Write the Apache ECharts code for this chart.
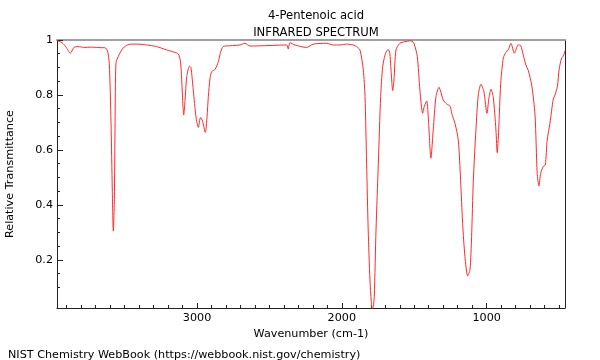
<!DOCTYPE html>
<html><head><meta charset="utf-8">
<script src="https://cdn.jsdelivr.net/npm/echarts@6/dist/echarts.min.js"></script>
<style>html,body{margin:0;padding:0;background:#fff}#c{width:600px;height:360px}</style>
</head><body><div id="c"></div>
<script>
const wavenumber = [3967,3932,3905,3875,3850,3822,3774,3739,3693,3663,3636,3618,3606,3594,3585,3578,3571,3566,3560,3544,3520,3497,3463,3408,3348,3279,3210,3159,3129,3114,3106,3092,3083,3071,3052,3042,3026,3007,2991,2976,2962,2943,2931,2922,2910,2899,2876,2853,2838,2819,2772,2703,2669,2634,2496,2381,2370,2358,2324,2243,2197,2105,2059,2013,1967,1921,1898,1875,1852,1840,1829,1818,1806,1797,1790,1783,1776,1764,1748,1732,1718,1702,1684,1675,1668,1656,1649,1640,1626,1599,1564,1530,1516,1502,1479,1461,1442,1430,1414,1401,1385,1369,1350,1329,1316,1300,1276,1253,1241,1219,1196,1180,1166,1150,1131,1115,1104,1092,1074,1058,1039,1019,998,984,970,954,936,927,917,903,885,867,851,832,809,782,765,747,729,713,689,666,651,639,627,609,595,582,563,540,528,512,499,482,471,459];
const transmittance = [0.998,0.99,0.975,0.952,0.973,0.976,0.973,0.974,0.973,0.972,0.972,0.96,0.915,0.7,0.45,0.305,0.42,0.7,0.916,0.94,0.964,0.977,0.985,0.985,0.982,0.976,0.964,0.956,0.949,0.92,0.855,0.727,0.78,0.867,0.905,0.9,0.818,0.72,0.682,0.718,0.705,0.664,0.72,0.794,0.862,0.885,0.893,0.921,0.955,0.976,0.979,0.982,0.988,0.978,0.98,0.982,0.967,0.99,0.982,0.973,0.985,0.988,0.982,0.982,0.985,0.982,0.976,0.964,0.891,0.794,0.55,0.309,0.127,0.05,0.02,0.03,0.067,0.309,0.552,0.794,0.903,0.945,0.964,0.963,0.95,0.855,0.816,0.855,0.964,0.988,0.994,0.997,0.996,0.988,0.94,0.818,0.733,0.76,0.778,0.7,0.57,0.673,0.794,0.828,0.81,0.782,0.767,0.76,0.733,0.697,0.636,0.49,0.333,0.212,0.142,0.164,0.285,0.49,0.673,0.8,0.839,0.812,0.733,0.79,0.821,0.79,0.673,0.59,0.673,0.842,0.935,0.955,0.964,0.988,0.952,0.982,0.98,0.945,0.909,0.89,0.836,0.727,0.515,0.469,0.515,0.54,0.545,0.636,0.697,0.785,0.80,0.83,0.895,0.935,0.94,0.962];
const xMajorTicks = [1000,2000,3000];
const xMinorTicks = [500,600,700,800,900,1100,1200,1300,1400,1500,1600,1700,1800,1900,2100,2200,2300,2400,2500,2600,2700,2800,2900,3100,3200,3300,3400,3500,3600,3700,3800,3900];
const yMajorTicks = [0.2,0.4,0.6,0.8,1.0];
const yMinorTicks = [0.1,0.15,0.25,0.3,0.35,0.45,0.5,0.55,0.65,0.7,0.75,0.85,0.9,0.95];
const X_MIN = 459, X_MAX = 3967, Y_MIN = 0.025, Y_MAX = 1.0;

const FONT = 'DejaVu Sans';
const FS = 11.2;
const FT = 11.6;
const chart = echarts.init(document.getElementById('c'), null, {renderer:'canvas'});
const grid = {left:57, right:35, top:40, bottom:52, containLabel:false, outerBoundsMode:'none'};
chart.setOption({
  animation:false,
  backgroundColor:'#fff',
  title:[
    {text:'4-Pentenoic acid', left:311, top:5, textAlign:'center', textStyle:{fontFamily:FONT,fontSize:FT,fontWeight:'normal',color:'#000'}},
    {text:'INFRARED SPECTRUM', left:311, top:22, textAlign:'center', textStyle:{fontFamily:FONT,fontSize:FT,fontWeight:'normal',color:'#000'}},
    {text:'NIST Chemistry WebBook (https://webbook.nist.gov/chemistry)', left:3, top:345, textStyle:{fontFamily:FONT,fontSize:FS,fontWeight:'normal',color:'#000'}}
  ],
  grid:grid,
  xAxis:[
    {type:'value', position:'bottom', inverse:true, min:X_MIN, max:X_MAX,
     name:'Wavenumber (cm-1)', nameLocation:'middle', nameGap:19,
     nameTextStyle:{fontFamily:FONT,fontSize:FS,color:'#000'},
     axisLine:{show:true,lineStyle:{color:'#222',width:1}},
     axisTick:{show:true,inside:true,length:5,customValues:xMajorTicks,lineStyle:{color:'#222'}},
     axisLabel:{show:true,margin:5,customValues:xMajorTicks,fontFamily:FONT,fontSize:FS,color:'#000',
       formatter:v=>String(Math.round(v))},
     splitLine:{show:false}},
    {type:'value', position:'bottom', inverse:true, min:X_MIN, max:X_MAX,
     axisLine:{show:false},
     axisTick:{show:true,inside:true,length:3,customValues:xMinorTicks,lineStyle:{color:'#222'}},
     axisLabel:{show:false}, splitLine:{show:false}},
    {type:'value', position:'top', inverse:true, min:X_MIN, max:X_MAX,
     axisLine:{show:true,lineStyle:{color:'#a0a0a0',width:2}},
     axisTick:{show:false}, axisLabel:{show:false}, splitLine:{show:false}}
  ],
  yAxis:[
    {type:'value', position:'left', min:Y_MIN, max:Y_MAX,
     name:'Relative Transmittance', nameLocation:'middle', nameGap:41, nameRotate:90,
     nameTextStyle:{fontFamily:FONT,fontSize:FS,color:'#000'},
     axisLine:{show:true,lineStyle:{color:'#222',width:1}},
     axisTick:{show:true,inside:true,length:6,customValues:yMajorTicks,lineStyle:{color:'#222'}},
     axisLabel:{show:true,margin:4,customValues:yMajorTicks,fontFamily:FONT,fontSize:FS,color:'#000',
       formatter:v=>Math.abs(v-1)<1e-9?'1':String(Math.round(v*10)/10)},
     splitLine:{show:false}},
    {type:'value', position:'left', min:Y_MIN, max:Y_MAX,
     axisLine:{show:false},
     axisTick:{show:true,inside:true,length:3,customValues:yMinorTicks,lineStyle:{color:'#222'}},
     axisLabel:{show:false}, splitLine:{show:false}},
    {type:'value', position:'right', min:Y_MIN, max:Y_MAX,
     axisLine:{show:true,lineStyle:{color:'#222',width:1}},
     axisTick:{show:false}, axisLabel:{show:false}, splitLine:{show:false}}
  ],
  series:[{
    type:'line', xAxisIndex:0, yAxisIndex:0,
    data:wavenumber.map((w,i)=>[w,transmittance[i]]),
    showSymbol:false, smooth:0.25, clip:true,
    lineStyle:{color:'#ff2a2a',width:1}
  }]
});
</script></body></html>
